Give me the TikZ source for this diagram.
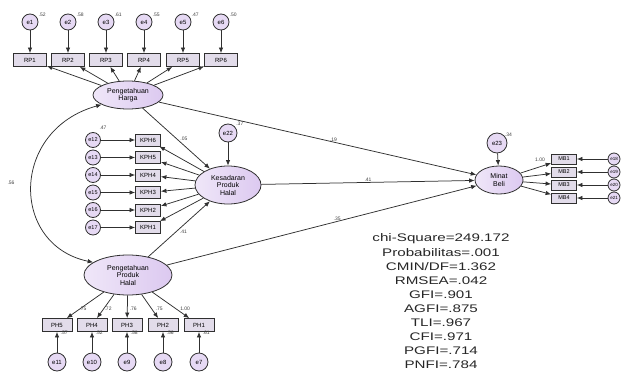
\documentclass[tikz,border=0pt]{standalone}
\usepackage{fontspec}
\usepackage{graphicx}
\setmainfont{Liberation Sans}
\usetikzlibrary{shapes.geometric,arrows.meta,calc}
\definecolor{lav}{HTML}{DCC9F0}
\definecolor{boxc}{HTML}{E2DCEA}
\definecolor{ln}{HTML}{303030}
\tikzset{
  lat/.style={ellipse, draw=ln, line width=0.8pt, left color=lav!45, right color=lav, inner sep=0pt, align=center, font=\fontsize{7}{7.5}\selectfont},
  obs/.style={rectangle, draw=ln, line width=0.8pt, fill=boxc, minimum width=33pt, minimum height=13pt, inner sep=0pt, font=\fontsize{6}{7}\selectfont},
  err/.style={circle, draw=ln, line width=0.8pt, fill=lav!70, minimum size=16pt, inner sep=0pt, font=\fontsize{6}{7}\selectfont},
  arr/.style={draw=ln, line width=0.75pt, -{Latex[length=5.5pt,width=4.5pt]}},
  lab/.style={font=\fontsize{5}{6}\selectfont, text=black!75, inner sep=0.5pt},
  fit/.style={font=\fontsize{11}{11.5}\selectfont, text=black!85, inner sep=0pt}
}
\newcommand{\wide}[1]{\scalebox{1.38}[1]{#1}}
\begin{document}
\begin{tikzpicture}[x=1pt,y=-1pt]
\useasboundingbox (0,0) rectangle (623,377);
% ---- top block
\node[lat, minimum width=70pt, minimum height=28pt] (PK) at (128,95) {Pengetahuan\\Harga};
\foreach \i/\x/\v/\l in {1/30/.52/.69, 2/68/.58/.76, 3/106/.61/.78, 4/144/.55/.74, 5/183/.47/.69, 6/221/.50/.71}{
  \node[err] (e\i) at (\x,22) {e\i};
  \node[lab, anchor=south west] (ve\i) at ([xshift=2pt,yshift=-1pt]e\i.north east) {\v};
  \node[obs] (RP\i) at (\x,60) {RP\i};
  \draw[arr] (e\i) -- (RP\i);
  \draw[arr] (PK) -- (RP\i);
}
% ---- middle block
\node[lat, minimum width=66pt, minimum height=38pt] (KPH) at (228,185) {Kesadaran\\Produk\\Halal};
\node[err, minimum size=18pt] (e22) at (228,133) {e22};
\node[lab, anchor=south west] (ve22) at ([xshift=1pt]e22.north east) {.37};
\draw[arr] (e22) -- (KPH);
\foreach \k/\y/\n in {12/140/6, 13/157.5/5, 14/175/4, 15/192.5/3, 16/210/2, 17/227.5/1}{
  \node[err, minimum size=15pt, font=\fontsize{5.5}{6}\selectfont] (e\k) at (93,\y) {e\k};
  \node[obs, minimum width=25pt, minimum height=12pt] (K\n) at (148,\y) {KPH\n};
  \draw[arr] (e\k) -- (K\n);
  \draw[arr] (KPH) -- (K\n);
}
\node[lab] (ve12) at (103,128) {.47};
% ---- bottom block
\node[lat, minimum width=88pt, minimum height=40pt] (PPH) at (128,275) {Pengetahuan\\Produk\\Halal};
\foreach \k/\x/\n/\v/\l in {11/57/5/.57/.75, 10/92/4/.52/.72, 9/127/3/.58/.76, 8/163/2/.56/.75, 7/199/1/.61/1.00}{
  \node[err, minimum size=18pt] (e\k) at (\x,362) {e\k};
  \node[obs, minimum width=30pt] (P\n) at (\x,325) {PH\n};
  \node[lab, anchor=south west] (vp\k) at ([xshift=3pt,yshift=-3pt]P\n.south) {\v};
  \draw[arr] (e\k) -- (P\n);
  \draw[arr] (PPH) -- (P\n);
  \node[lab] (lp\k) at ($(PPH)!0.72!(P\n)+(6,-2)$) {\l};
}
% ---- Minat Beli
\node[lat, minimum width=48pt, minimum height=28pt] (MB) at (499,180) {Minat\\Beli};
\node[err, minimum size=20pt] (e23) at (497,143) {e23};
\node[lab, anchor=south west] (ve23) at ([xshift=0pt,yshift=-2pt]e23.north east) {.34};
\draw[arr] (e23) -- (MB);
\foreach \k/\y/\n in {18/159/1, 19/172/2, 20/185/3, 21/198/4}{
  \node[obs, minimum width=25pt, minimum height=10pt, font=\fontsize{5.5}{6}\selectfont] (M\n) at (564,\y) {MB\n};
  \node[err, minimum size=12pt, font=\fontsize{4.5}{5}\selectfont] (e\k) at (614,\y) {e\k};
  \draw[arr] (e\k) -- (M\n);
  \draw[arr] (MB) -- (M\n);
}
\node[lab] (lm1) at (540,160) {1.00};
% ---- structural paths
\draw[arr] (PK) -- (KPH) node[lab, pos=0.55, above right] {.05};
\draw[arr] (PPH) -- (KPH) node[lab, pos=0.5, below right] {.41};
\draw[arr] (PK) -- (MB) node[lab, pos=0.55, above] {.19};
\draw[arr] (KPH) -- (MB) node[lab, pos=0.5, above] {.41};
\draw[arr] (PPH) -- (MB) node[lab, pos=0.55, above] {.35};
% covariance
\draw[draw=ln, line width=0.75pt, {Latex[length=5.5pt,width=4.5pt]}-{Latex[length=5.5pt,width=4.5pt]}] (PK.200) .. controls (10,130) and (10,245) .. (PPH.160);
\node[lab] (cov) at (11,183) {.56};
% ---- fit indices
\node[fit] (f1) at (441,239) {\wide{chi-Square=249.172}};
\node[fit] (f2) at (441,253) {\wide{Probabilitas=.001}};
\node[fit] (f3) at (441,267) {\wide{CMIN/DF=1.362}};
\node[fit] (f4) at (441,281) {\wide{RMSEA=.042}};
\node[fit] (f5) at (441,295) {\wide{GFI=.901}};
\node[fit] (f6) at (441,309) {\wide{AGFI=.875}};
\node[fit] (f7) at (441,323) {\wide{TLI=.967}};
\node[fit] (f8) at (441,337) {\wide{CFI=.971}};
\node[fit] (f9) at (441,351) {\wide{PGFI=.714}};
\node[fit] (f10) at (441,365) {\wide{PNFI=.784}};
\end{tikzpicture}
\end{document}
